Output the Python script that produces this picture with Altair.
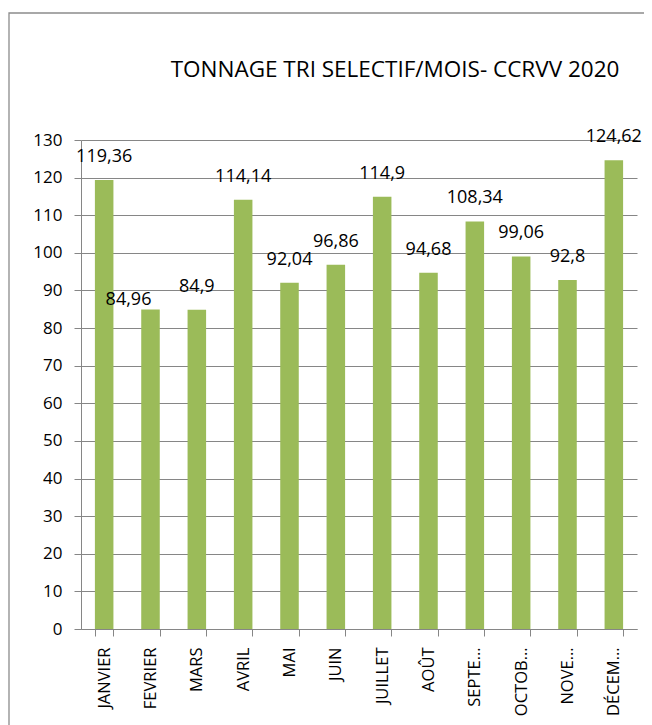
import altair as alt
import pandas as pd

months = ["JANVIER", "FEVRIER", "MARS", "AVRIL", "MAI", "JUIN", "JUILLET",
          "AOÛT", "SEPTE…", "OCTOB…", "NOVE…", "DÉCEM…"]
values = [119.36, 84.96, 84.9, 114.14, 92.04, 96.86, 114.9,
          94.68, 108.34, 99.06, 92.8, 124.62]
value_labels = ["119,36", "84,96", "84,9", "114,14", "92,04", "96,86", "114,9",
                "94,68", "108,34", "99,06", "92,8", "124,62"]
y_ticks = [0, 10, 20, 30, 40, 50, 60, 70, 80, 90, 100, 110, 120, 130]

df = pd.DataFrame({"mois": months, "tonnage": values, "etiquette": value_labels})

FONT = "Open Sans"
GRID = "#868686"
GREEN = "#9BBB59"

x_enc = alt.X("mois:N", sort=months, title=None,
              scale=alt.Scale(paddingInner=0.6, paddingOuter=0.3),
              axis=alt.Axis(labelAngle=-90, labelAlign="right", labelBaseline="middle",
                            labelPadding=11, tickSize=7, tickBand="extent",
                            tickColor=GRID, domainColor=GRID, labelFont=FONT,
                            labelFontSize=16.5, labelColor="black", grid=False,
                            labelOverlap=False, labelLimit=200))
y_enc = alt.Y("tonnage:Q", title=None,
              scale=alt.Scale(domain=[0, 130], nice=False, zero=True),
              axis=alt.Axis(values=y_ticks, tickSize=7, tickColor=GRID, domainColor=GRID,
                            gridColor=GRID, labelFont=FONT, labelFontSize=17,
                            labelColor="black", labelPadding=12, labelOverlap=False,
                            labelFlush=False, labelBound=False))

base = alt.Chart(df)
bars = base.mark_bar(color=GREEN).encode(x=x_enc, y=y_enc)

labels = base.transform_filter(alt.datum.mois != "FEVRIER").mark_text(
    font=FONT, fontSize=18, color="black", baseline="alphabetic", dy=-18
).encode(x=x_enc, y=y_enc, text="etiquette:N")

label_fev = base.transform_filter(alt.datum.mois == "FEVRIER").mark_text(
    font=FONT, fontSize=18, color="black", baseline="alphabetic", dy=-4, dx=-22
).encode(x=x_enc, y=y_enc, text="etiquette:N")

frame_df = pd.DataFrame({"f": [0]})
frame = alt.Chart(frame_df).mark_rect(filled=False, color="#8c8c8c", strokeWidth=1.3).encode(
    x=alt.value(-72), x2=alt.value(700), y=alt.value(-127), y2=alt.value(700))

chart = alt.layer(bars, labels, label_fev, frame).properties(
    width=556, height=489,
    title=alt.TitleParams("TONNAGE TRI SELECTIF/MOIS- CCRVV 2020", font=FONT,
                          fontSize=22.5, fontWeight="normal", color="black",
                          anchor="middle", frame="group", dx=36, offset=-69),
    autosize=alt.AutoSizeParams(type="none"),
    padding={"left": 73, "top": 132, "right": 7, "bottom": 96},
).configure_view(stroke=None).configure_axis(gridWidth=1, domainWidth=1, tickWidth=1)

chart.save("out.html", embed_options={"renderer": "svg", "actions": False})
